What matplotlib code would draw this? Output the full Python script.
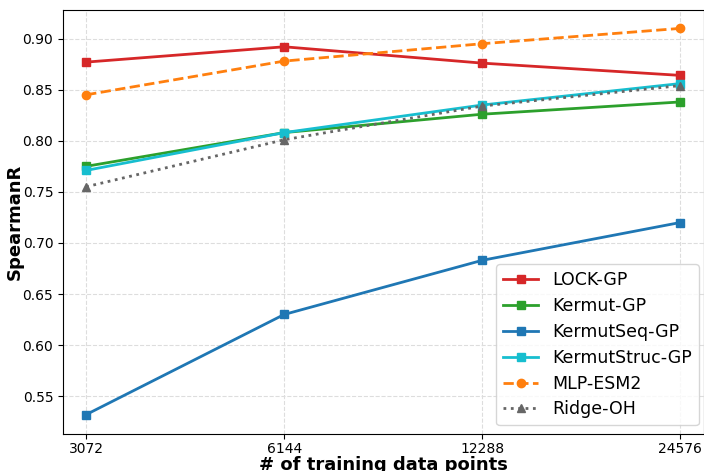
import numpy as np
import matplotlib.pyplot as plt

n_train = [3072, 6144, 12288, 24576]

lock_gp = [0.877, 0.892, 0.876, 0.864]
kermut_gp = [0.775, 0.808, 0.826, 0.838]
kermutseq_gp = [0.532, 0.630, 0.683, 0.720]
kermutstruc_gp = [0.771, 0.808, 0.835, 0.856]
mlp_esm2 = [0.845, 0.878, 0.895, 0.910]
ridge_oh = [0.755, 0.801, 0.834, 0.854]

fig = plt.figure(figsize=(7.04, 4.71), dpi=100)
ax = fig.add_axes([63/704, 37/471, 641/704, 424/471])

ax.plot(n_train, lock_gp, color='#d62728', marker='s', markersize=6, lw=2, label='LOCK-GP')
ax.plot(n_train, kermut_gp, color='#2ca02c', marker='s', markersize=6, lw=2, label='Kermut-GP')
ax.plot(n_train, kermutseq_gp, color='#1f77b4', marker='s', markersize=6, lw=2, label='KermutSeq-GP')
ax.plot(n_train, kermutstruc_gp, color='#17becf', marker='s', markersize=6, lw=2, label='KermutStruc-GP')
ax.plot(n_train, mlp_esm2, color='#ff7f0e', marker='o', markersize=6, lw=2, linestyle='--', label='MLP-ESM2')
ax.plot(n_train, ridge_oh, color='#666666', marker='^', markersize=6, lw=2, linestyle=':', label='Ridge-OH')

ax.set_xscale('log', base=2)
ax.set_xticks(n_train)
ax.set_xticklabels([str(v) for v in n_train])
ax.minorticks_off()
ax.set_xlim(3072 * 2**-0.117, 24576 * 2**0.12)
ax.set_ylim(0.513, 0.928)
ax.set_yticks(np.arange(0.55, 0.901, 0.05))
ax.tick_params(labelsize=10)
ax.tick_params(axis='x', pad=2)

ax.grid(True, linestyle='--', color='#dddddd', lw=0.8)
ax.set_xlabel('# of training data points', fontsize=13, fontweight='bold', labelpad=0)
ax.set_ylabel('SpearmanR', fontsize=13, fontweight='bold', labelpad=-1)

ax.legend(loc='lower right', bbox_to_anchor=(0.997, 0.012), fontsize=12.5,
          handlelength=2.0, borderaxespad=0.2, labelspacing=0.45)

fig.savefig('out.png', dpi=100)
